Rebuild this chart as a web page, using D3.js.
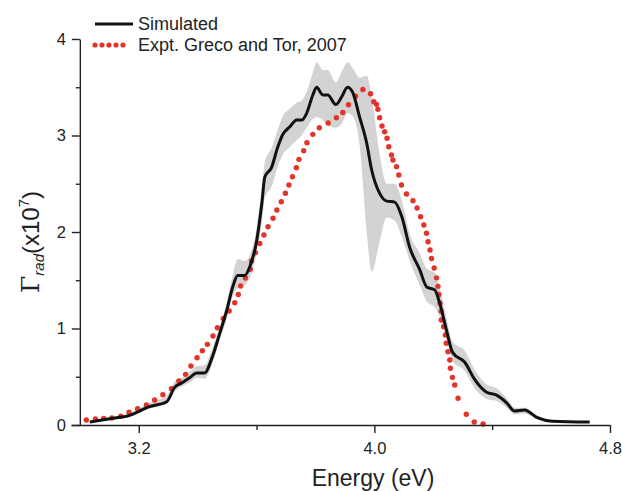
<!DOCTYPE html>
<html>
<head>
<meta charset="utf-8">
<script src="https://cdn.jsdelivr.net/npm/d3@7"></script>
<style>
  body { margin: 0; background: #fff; }
  svg { font-family: "Liberation Sans", Arial, Helvetica, sans-serif; }
  .axis path, .axis line { stroke: #222; stroke-width: 1.4px; }
  .axis text { fill: #222; font-size: 16.5px; }
</style>
</head>
<body>
<svg width="622" height="491"></svg>
<script>
// simulated spectrum (mean) and its spread
var simE = [3.034,3.112,3.169,3.203,3.237,3.264,3.295,3.322,3.346,3.373,3.397,3.424,3.448,3.475,3.499,3.519,3.536,3.560,3.577,3.601,3.618,3.628,3.651,3.672,3.689,3.713,3.736,3.753,3.770,3.791,3.804,3.825,3.842,3.869,3.889,3.909,3.926,3.950,3.974,3.991,4.018,4.042,4.069,4.093,4.120,4.154,4.178,4.205,4.222,4.245,4.266,4.307,4.341,4.381,4.415,4.449,4.476,4.510,4.551,4.605,4.731];
var simV = [0.03,0.07,0.10,0.145,0.19,0.21,0.24,0.39,0.435,0.49,0.54,0.54,0.69,0.95,1.19,1.43,1.55,1.55,1.64,1.92,2.30,2.57,2.67,2.88,3.01,3.09,3.16,3.16,3.23,3.42,3.50,3.42,3.42,3.32,3.40,3.50,3.45,3.19,2.92,2.64,2.40,2.32,2.31,2.16,1.84,1.61,1.43,1.40,1.26,0.98,0.75,0.65,0.47,0.34,0.31,0.23,0.145,0.155,0.08,0.04,0.03];
var simHi = [0.04,0.08,0.12,0.17,0.23,0.26,0.30,0.45,0.49,0.55,0.61,0.62,0.78,1.02,1.27,1.55,1.72,1.70,1.76,2.05,2.45,2.72,2.87,3.06,3.20,3.28,3.34,3.36,3.45,3.65,3.76,3.68,3.68,3.55,3.66,3.76,3.70,3.60,3.62,3.40,2.80,2.50,2.50,2.33,1.98,1.78,1.62,1.58,1.42,1.10,0.86,0.77,0.57,0.42,0.38,0.28,0.18,0.18,0.10,0.05,0.035];
var simLo = [0.02,0.06,0.09,0.13,0.17,0.19,0.22,0.35,0.40,0.44,0.49,0.48,0.62,0.88,1.10,1.33,1.42,1.45,1.52,1.80,2.10,2.35,2.47,2.68,2.80,2.88,2.95,3.00,3.08,3.17,3.19,3.16,3.10,3.08,3.12,3.23,3.20,2.90,2.00,1.59,1.90,2.15,2.12,1.95,1.70,1.45,1.28,1.22,1.12,0.88,0.66,0.56,0.38,0.27,0.25,0.18,0.11,0.12,0.06,0.03,0.025];

// experiment (Greco and Tor, 2007)
var exptE = [3.022,3.053,3.081,3.109,3.139,3.167,3.196,3.226,3.254,3.282,3.311,3.336,3.359,3.377,3.398,3.416,3.433,3.452,3.467,3.487,3.507,3.526,3.538,3.546,3.562,3.579,3.583,3.596,3.611,3.625,3.639,3.656,3.669,3.684,3.698,3.710,3.722,3.735,3.744,3.760,3.771,3.791,3.813,3.843,3.871,3.893,3.912,3.936,3.961,3.987,3.998,4.007,4.012,4.018,4.026,4.035,4.043,4.049,4.058,4.063,4.075,4.083,4.092,4.109,4.131,4.145,4.157,4.168,4.177,4.182,4.189,4.194,4.203,4.211,4.216,4.219,4.223,4.227,4.227,4.235,4.241,4.244,4.250,4.256,4.258,4.265,4.273,4.284,4.312,4.339,4.369];
var exptV = [0.052,0.062,0.069,0.073,0.090,0.132,0.169,0.207,0.259,0.314,0.376,0.456,0.525,0.611,0.697,0.770,0.836,0.922,1.008,1.104,1.181,1.267,1.352,1.440,1.523,1.613,1.699,1.785,1.881,1.969,2.055,2.142,2.228,2.314,2.401,2.487,2.573,2.666,2.753,2.842,2.925,3.012,3.080,3.130,3.184,3.238,3.319,3.407,3.476,3.433,3.350,3.323,3.272,3.184,3.098,3.039,2.971,2.884,2.798,2.746,2.677,2.591,2.487,2.394,2.324,2.249,2.159,2.073,1.987,1.899,1.813,1.725,1.627,1.525,1.437,1.352,1.261,1.179,1.088,1.019,0.933,0.847,0.760,0.674,0.588,0.494,0.415,0.277,0.111,0.031,0.010];

var xMajor = [3.2, 4.0, 4.8];
var xMinor = [3.6, 4.4];
var yMajor = [0, 1, 2, 3, 4];
var yMinor = [0.5, 1.5, 2.5, 3.5];

var svg = d3.select('svg');

var x = d3.scaleLinear().domain([2.97, 4.8]).range([71, 610]);
var y = d3.scaleLinear().domain([0, 4]).range([425, 39]);

var sim = simE.map(function (e, i) {
  return { e: e, v: simV[i], lo: simLo[i], hi: simHi[i] };
});
var expt = exptE.map(function (e, i) { return { e: e, v: exptV[i] }; });

// spread band
var band = d3.area()
  .curve(d3.curveMonotoneX)
  .x(function (d) { return x(d.e); })
  .y0(function (d) { return y(d.lo); })
  .y1(function (d) { return y(d.hi); });

svg.append('path')
  .datum(sim)
  .attr('d', band)
  .attr('fill', '#d3d3d3');

// experimental dots
svg.append('g')
  .selectAll('circle')
  .data(expt)
  .join('circle')
  .attr('cx', function (d) { return x(d.e); })
  .attr('cy', function (d) { return y(d.v); })
  .attr('r', 2.7)
  .attr('fill', '#e2342b');

// simulated line
var line = d3.line()
  .curve(d3.curveMonotoneX)
  .x(function (d) { return x(d.e); })
  .y(function (d) { return y(d.v); });

svg.append('path')
  .datum(sim)
  .attr('d', line)
  .attr('fill', 'none')
  .attr('stroke', '#111')
  .attr('stroke-width', 3);

// x axis
svg.append('g')
  .attr('class', 'axis')
  .attr('transform', 'translate(0,' + y(0) + ')')
  .call(d3.axisBottom(x).tickValues(xMajor).tickSize(8).tickSizeOuter(0).tickPadding(9)
    .tickFormat(d3.format('.1f')));

svg.append('g')
  .attr('class', 'axis')
  .attr('transform', 'translate(0,' + y(0) + ')')
  .call(d3.axisBottom(x).tickValues(xMinor).tickSize(5).tickSizeOuter(0).tickFormat(''))
  .select('.domain').remove();

// y axis
svg.append('g')
  .attr('class', 'axis')
  .attr('transform', 'translate(' + x(3.0) + ',0)')
  .call(d3.axisLeft(y).tickValues(yMajor).tickSize(8).tickSizeOuter(0).tickPadding(6)
    .tickFormat(d3.format('d')));

svg.append('g')
  .attr('class', 'axis')
  .attr('transform', 'translate(' + x(3.0) + ',0)')
  .call(d3.axisLeft(y).tickValues(yMinor).tickSize(4).tickSizeOuter(0).tickFormat(''))
  .select('.domain').remove();

// axis titles
svg.append('text')
  .attr('x', 373)
  .attr('y', 486)
  .attr('text-anchor', 'middle')
  .attr('fill', '#222')
  .style('font-size', '23px')
  .text('Energy (eV)');

var yl = svg.append('text')
  .attr('transform', 'translate(39,242) rotate(-90)')
  .attr('text-anchor', 'middle')
  .attr('fill', '#222')
  .style('font-size', '24px');
yl.append('tspan').style('font-family', '"DejaVu Serif", serif').style('font-size', '25px').text('Γ');
yl.append('tspan').attr('dy', 5).style('font-style', 'italic').style('font-size', '15px').text('rad');
yl.append('tspan').attr('dy', -5).text('(x10');
yl.append('tspan').attr('dy', -10).style('font-size', '15px').text('7');
yl.append('tspan').attr('dy', 10).text(')');

// legend
var legend = svg.append('g');
legend.append('line')
  .attr('x1', 95).attr('x2', 133)
  .attr('y1', 24).attr('y2', 24)
  .attr('stroke', '#111')
  .attr('stroke-width', 3);
legend.append('text')
  .attr('x', 138).attr('y', 30)
  .attr('fill', '#222')
  .style('font-size', '18px')
  .text('Simulated');
legend.append('line')
  .attr('x1', 95).attr('x2', 130)
  .attr('y1', 45).attr('y2', 45)
  .attr('stroke', '#e2342b')
  .attr('stroke-width', 5.2)
  .attr('stroke-linecap', 'round')
  .attr('stroke-dasharray', '0,7');
legend.append('text')
  .attr('x', 138).attr('y', 51)
  .attr('fill', '#222')
  .style('font-size', '18px')
  .text('Expt. Greco and Tor, 2007');
</script>
</body>
</html>
